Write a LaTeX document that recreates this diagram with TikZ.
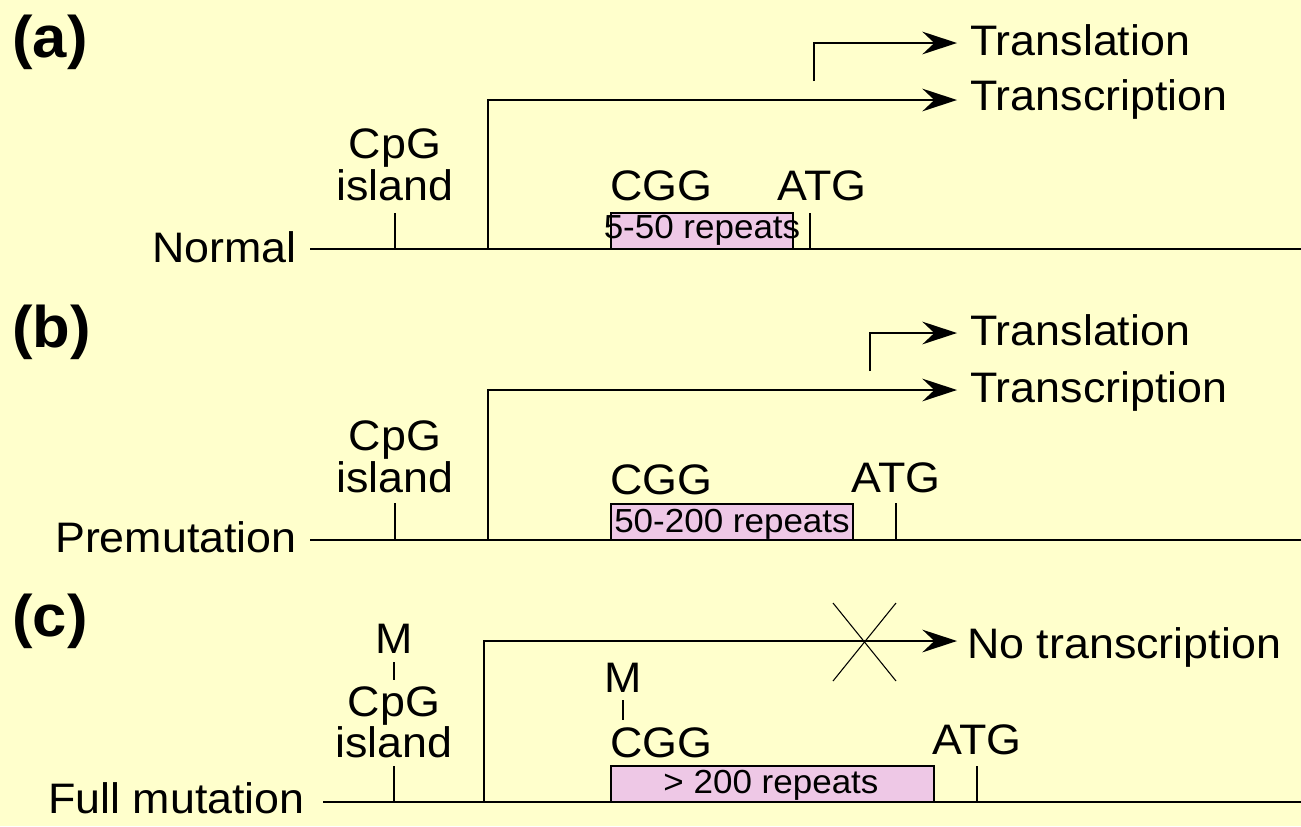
\documentclass[tikz,border=0pt]{standalone}
\usepackage{fontspec}
\setmainfont{Liberation Sans}[FakeStretch=1.05]
\usetikzlibrary{arrows.meta}
\definecolor{bg}{RGB}{255,255,204}
\definecolor{rpt}{RGB}{238,200,230}
\begin{document}
\begin{tikzpicture}[x=0.75pt,y=-0.75pt,
  txt/.style={font=\fontsize{32}{38}\selectfont, inner sep=0pt},
  rtxt/.style={font=\fontsize{25}{30}\selectfont, inner sep=0pt},
  hd/.style={font=\fontsize{44}{50}\selectfont\bfseries, inner sep=0pt},
  dna/.style={line width=1.4pt},
  tickline/.style={line width=1.4pt},
  arr/.style={line width=1.4pt, -{Stealth[length=26pt,width=17pt,inset=9pt]}},
  rbox/.style={draw, line width=1.4pt, fill=rpt},
  xline/.style={line width=0.8pt}]
\fill[bg] (0,0) rectangle (1301,826);
\useasboundingbox (0,0) rectangle (1301,826);

% ---------------- (a) ----------------
\node[hd, anchor=base west] (la) at (12,57) {(a)};
\node[txt, anchor=base east] (na) at (297,262) {Normal};
\coordinate (a0) at (310,249); \coordinate (a1) at (1301,249);
\draw[dna] (a0) -- (a1);
\node[txt, anchor=base] (cpga) at (395,158) {CpG};
\node[txt, anchor=base] (isla) at (395,200) {island};
\coordinate (ta0) at (395,213); \coordinate (ta1) at (395,249);
\draw[tickline] (ta0) -- (ta1);
\draw[rbox] (611,213) rectangle (793,249);
\node[rtxt, anchor=base] (ra) at (702,238) {5-50 repeats};
\node[txt, anchor=base west] (cgga) at (610,200) {CGG};
\node[txt, anchor=base] (atga) at (822,200) {ATG};
\coordinate (ga0) at (810,213); \coordinate (ga1) at (810,249);
\draw[tickline] (ga0) -- (ga1);
\coordinate (pa0) at (488,249); \coordinate (pa1) at (488,100); \coordinate (pa2) at (957,100);
\draw[arr] (pa0) -- (pa1) -- (pa2);
\node[txt, anchor=base west] (tsa) at (970,110) {Transcription};
\coordinate (qa0) at (814,81); \coordinate (qa1) at (814,43); \coordinate (qa2) at (957,43);
\draw[arr] (qa0) -- (qa1) -- (qa2);
\node[txt, anchor=base west] (tla) at (970,55) {Translation};

% ---------------- (b) ----------------
\node[hd, anchor=base west] (lb) at (12,347) {(b)};
\node[txt, anchor=base east] (nb) at (297,552) {Premutation};
\coordinate (b0) at (310,540); \coordinate (b1) at (1301,540);
\draw[dna] (b0) -- (b1);
\node[txt, anchor=base] (cpgb) at (395,450) {CpG};
\node[txt, anchor=base] (islb) at (395,492) {island};
\coordinate (tb0) at (395,503); \coordinate (tb1) at (395,540);
\draw[tickline] (tb0) -- (tb1);
\draw[rbox] (611,504) rectangle (853,540);
\node[rtxt, anchor=base] (rb) at (732,532) {50-200 repeats};
\node[txt, anchor=base west] (cggb) at (610,494) {CGG};
\node[txt, anchor=base] (atgb) at (896,492) {ATG};
\coordinate (gb0) at (896,503); \coordinate (gb1) at (896,540);
\draw[tickline] (gb0) -- (gb1);
\coordinate (pb0) at (488,540); \coordinate (pb1) at (488,390); \coordinate (pb2) at (957,390);
\draw[arr] (pb0) -- (pb1) -- (pb2);
\node[txt, anchor=base west] (tsb) at (970,402) {Transcription};
\coordinate (qb0) at (870,371); \coordinate (qb1) at (870,333); \coordinate (qb2) at (957,333);
\draw[arr] (qb0) -- (qb1) -- (qb2);
\node[txt, anchor=base west] (tlb) at (970,345) {Translation};

% ---------------- (c) ----------------
\node[hd, anchor=base west] (lc) at (12,636) {(c)};
\node[txt, anchor=base east] (nc) at (305,813) {Full mutation};
\coordinate (c0) at (323,802); \coordinate (c1) at (1301,802);
\draw[dna] (c0) -- (c1);
\node[txt, anchor=base] (mc1) at (394,653) {M};
\coordinate (mt0) at (394,662); \coordinate (mt1) at (394,680);
\draw[tickline] (mt0) -- (mt1);
\node[txt, anchor=base] (cpgc) at (394,716) {CpG};
\node[txt, anchor=base] (islc) at (394,757) {island};
\coordinate (tc0) at (394,766); \coordinate (tc1) at (394,802);
\draw[tickline] (tc0) -- (tc1);
\draw[rbox] (611,766) rectangle (934,802);
\node[rtxt, anchor=base] (rc) at (771,793) {> 200 repeats};
\node[txt, anchor=base] (mc2) at (623,692) {M};
\coordinate (mu0) at (623,700); \coordinate (mu1) at (623,720);
\draw[tickline] (mu0) -- (mu1);
\node[txt, anchor=base west] (cggc) at (610,757) {CGG};
\node[txt, anchor=base] (atgc) at (977,754) {ATG};
\coordinate (gc0) at (977,766); \coordinate (gc1) at (977,802);
\draw[tickline] (gc0) -- (gc1);
\coordinate (pc0) at (484,802); \coordinate (pc1) at (484,641); \coordinate (pc2) at (957,641);
\draw[arr] (pc0) -- (pc1) -- (pc2);
\node[txt, anchor=base west] (ntc) at (967,658) {No transcription};
\coordinate (x0) at (833,603); \coordinate (x1) at (896,681);
\coordinate (x2) at (896,603); \coordinate (x3) at (833,681);
\draw[xline] (x0) -- (x1);
\draw[xline] (x2) -- (x3);
\end{tikzpicture}
\end{document}
